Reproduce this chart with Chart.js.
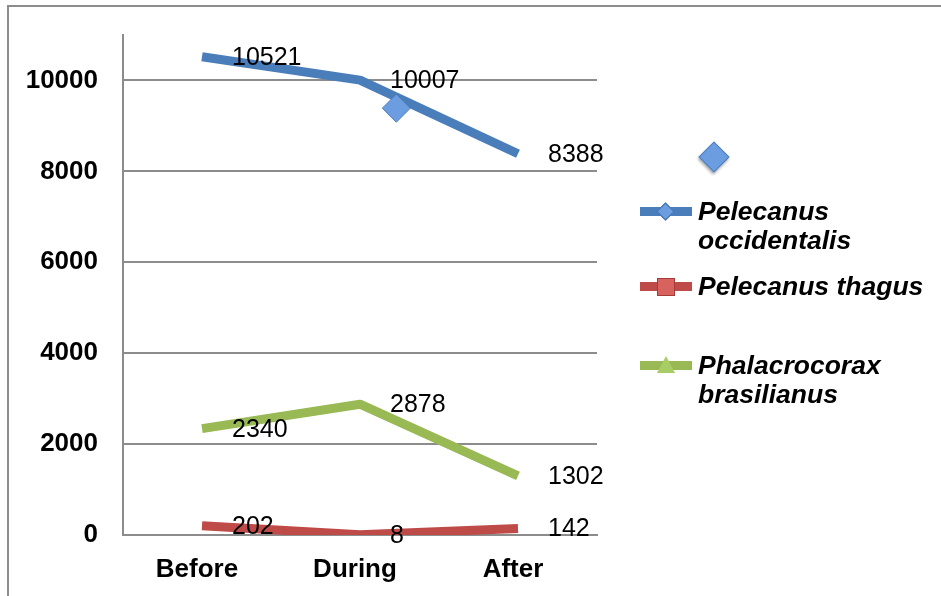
<!DOCTYPE html>
<html>
<head>
<meta charset="utf-8">
<script src="https://cdn.jsdelivr.net/npm/chart.js@4.4.1/dist/chart.umd.min.js"></script>
<style>
body { margin: 0; background: #fff; }
#wrap { position: relative; width: 941px; height: 596px; overflow: hidden; }
#frame { position: absolute; left: 7px; top: 5px; width: 960px; height: 620px;
  border-top: 2px solid #8c8c8c; border-left: 2px solid #8c8c8c; pointer-events: none; }
.item { position: absolute; left: 640px; display: flex; align-items: flex-start; }
.icon { position: relative; width: 52px; height: 29px; margin-right: 6px; flex: none; }
.bar { position: absolute; left: 0; right: 0; top: 10px; height: 9px; }
.mk { position: absolute; }
.txt { font: italic bold 26.5px "Liberation Sans", Arial, sans-serif; line-height: 29px; width: 240px; color: #000; }
</style>
</head>
<body>
<div id="wrap">
  <canvas id="myChart" width="941" height="596"></canvas>
  <div id="frame"></div>
  <div id="legend"></div>
</div>
<script>
// data
const categories = ['Before', 'During', 'After'];
const seriesNames = ['Pelecanus occidentalis', 'Pelecanus thagus', 'Phalacrocorax brasilianus'];
const occidentalis = [10521, 10007, 8388];
const thagus = [202, 8, 142];
const brasilianus = [2340, 2878, 1302];
const seriesColors = ['#4a7ebb', '#be4b48', '#98b954'];
// the lone diamond marker (unnamed series)
const strayLabel = '';
const strayPoint = [{ x: 1.23, y: 9390 }];
const yTicks = [0, 2000, 4000, 6000, 8000, 10000];

const values = [occidentalis, thagus, brasilianus];

const valueLabels = {
    id: 'valueLabels',
    afterDatasetsDraw(chart) {
        const ctx = chart.ctx;
        ctx.save();
        ctx.font = '25px "Liberation Sans", Arial, sans-serif';
        ctx.fillStyle = '#000';
        ctx.textAlign = 'left';
        ctx.textBaseline = 'middle';
        chart.data.datasets.forEach((ds, i) => {
            if (!ds.showValues) return;
            chart.getDatasetMeta(i).data.forEach((pt, j) => {
                ctx.fillText(String(ds.data[j]), pt.x + 30, pt.y + 1);
            });
        });
        ctx.restore();
    }
};

const lineSets = seriesNames.map((name, i) => ({
    type: 'line',
    label: name,
    data: values[i],
    borderColor: seriesColors[i],
    backgroundColor: seriesColors[i],
    borderWidth: 9,
    borderCapStyle: 'butt',
    borderJoinStyle: 'round',
    pointRadius: 0,
    tension: 0,
    showValues: true,
    xAxisID: 'x',
    order: 2
}));

const straySet = {
    type: 'scatter',
    label: strayLabel,
    data: strayPoint,
    xAxisID: 'x2',
    pointStyle: 'rectRot',
    pointRadius: 14,
    backgroundColor: '#6c9de0',
    borderColor: '#4a7ebb',
    borderWidth: 1,
    order: 1
};

const ctx = document.getElementById('myChart');
new Chart(ctx, {
    data: {
        labels: categories,
        datasets: [straySet, ...lineSets]
    },
    options: {
        responsive: false,
        animation: false,
        devicePixelRatio: 1,
        layout: { padding: { top: 35, right: 344, left: 0, bottom: 0 } },
        plugins: { legend: { display: false }, tooltip: { enabled: false } },
        scales: {
            x: {
                type: 'category',
                offset: true,
                grid: { display: false, drawTicks: false },
                border: { display: true, color: '#8c8c8c', width: 2 },
                ticks: {
                    color: '#000',
                    padding: 19,
                    labelOffset: -5,
                    font: { family: '"Liberation Sans", Arial, sans-serif', size: 26, weight: 'bold' }
                },
                afterFit(scale) { scale.height = 61; }
            },
            x2: {
                type: 'linear',
                display: false,
                min: -0.5,
                max: 2.5
            },
            y: {
                min: 0,
                max: 11000,
                grid: { color: '#8c8c8c', lineWidth: 2, drawTicks: false },
                border: { display: true, color: '#8c8c8c', width: 2 },
                afterBuildTicks(scale) {
                    scale.ticks = yTicks.map(v => ({ value: v }));
                },
                ticks: {
                    color: '#000',
                    padding: 25,
                    font: { family: '"Liberation Sans", Arial, sans-serif', size: 26, weight: 'bold' },
                    callback: v => String(v)
                },
                afterFit(scale) {
                    scale.width = 123;
                    scale.paddingTop = 0;
                    scale.paddingBottom = 0;
                }
            }
        }
    },
    plugins: [valueLabels]
});

// legend, built from the same series lists
const legend = document.getElementById('legend');
function addItem(top, label, color, marker) {
    const item = document.createElement('div');
    item.className = 'item';
    item.style.top = top + 'px';
    const icon = document.createElement('div');
    icon.className = 'icon';
    if (label) {
        const bar = document.createElement('div');
        bar.className = 'bar';
        bar.style.background = color;
        icon.appendChild(bar);
    }
    const mk = document.createElement('div');
    mk.className = 'mk';
    if (marker === 'bigdiamond') {
        Object.assign(mk.style, { width: '20px', height: '20px', left: '63px', top: '4px', background: '#6c9de0',
            border: '1px solid #4a7ebb', transform: 'rotate(45deg)', boxShadow: '1px 2px 3px rgba(0,0,0,0.35)' });
    } else if (marker === 'diamond') {
        Object.assign(mk.style, { width: '11px', height: '11px', left: '19px', top: '8px', background: '#6c9de0',
            border: '1px solid #3f6fae', transform: 'rotate(45deg)' });
    } else if (marker === 'square') {
        Object.assign(mk.style, { width: '16px', height: '16px', left: '17px', top: '6px', background: '#d8625e',
            border: '1px solid #a33c39' });
    } else {
        Object.assign(mk.style, { width: '0', height: '0', left: '17px', top: '5px',
            borderLeft: '9px solid transparent', borderRight: '9px solid transparent', borderBottom: '17px solid #a8cc66' });
    }
    icon.appendChild(mk);
    item.appendChild(icon);
    const txt = document.createElement('div');
    txt.className = 'txt';
    txt.textContent = label;
    item.appendChild(txt);
    legend.appendChild(item);
}
addItem(142, strayLabel, '#4a7ebb', 'bigdiamond');
const legendTops = [197, 272, 351];
const markers = ['diamond', 'square', 'triangle'];
seriesNames.forEach((name, i) => addItem(legendTops[i], name, seriesColors[i], markers[i]));
</script>
</body>
</html>
